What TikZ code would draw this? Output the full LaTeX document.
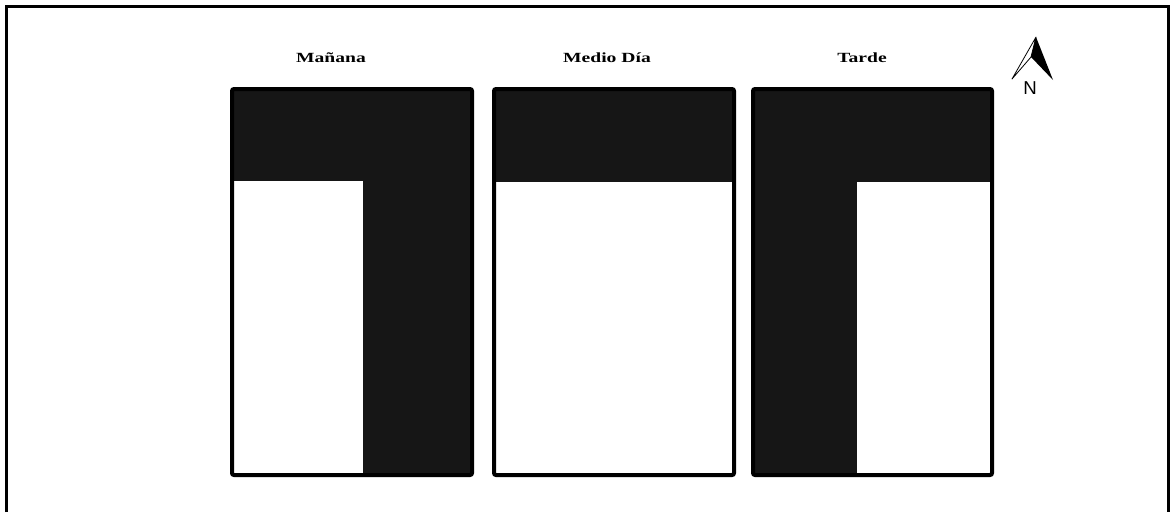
\documentclass[tikz,border=0pt]{standalone}
\usepackage{fontspec}
\setmainfont{Liberation Serif}
\setsansfont{Liberation Sans}
\usepackage{tikz}
\usetikzlibrary{calc}
\definecolor{darkfill}{RGB}{22,22,22}

\begin{document}
\begin{tikzpicture}[x=0.75pt,y=-0.75pt,
  panel/.style={draw=black,line width=3pt,rounded corners=1.5pt},
  title/.style={font=\bfseries\fontsize{10.5}{12}\selectfont,xscale=1.4,transform shape}]
\useasboundingbox (0,0) rectangle (1170,512);
% frame, open at the bottom
\draw[line width=2.25pt] (6.5,512) -- (6.5,6.5) -- (1168.5,6.5) -- (1168.5,512);

% morning: dark on top and to the right
\fill[darkfill] (232,89) rectangle (472,475);
\fill[white] (232,181) rectangle (363,475);
\draw[panel] (232,89) rectangle (472,475);
% midday: dark only on top
\fill[darkfill] (494,89) rectangle (734,475);
\fill[white] (494,182) rectangle (734,475);
\draw[panel] (494,89) rectangle (734,475);
% afternoon: dark on top and to the left
\fill[darkfill] (753,89) rectangle (992,475);
\fill[white] (857,182) rectangle (992,475);
\draw[panel] (753,89) rectangle (992,475);

\node[title] (morning) at (331,58) {Mañana};
\node[title] (midday) at (607,58) {Medio Día};
\node[title] (evening) at (862,58) {Tarde};

% north arrow
\draw[line width=0.6pt,line join=round,fill=white] (1036,37) -- (1012,79) -- (1031,57) -- cycle;
\fill[black] (1036,37) -- (1031,57) -- (1053,80) -- cycle;
\node[font=\sffamily\fontsize{14}{16}\selectfont] (north) at (1030,88) {N};
\end{tikzpicture}
\end{document}
